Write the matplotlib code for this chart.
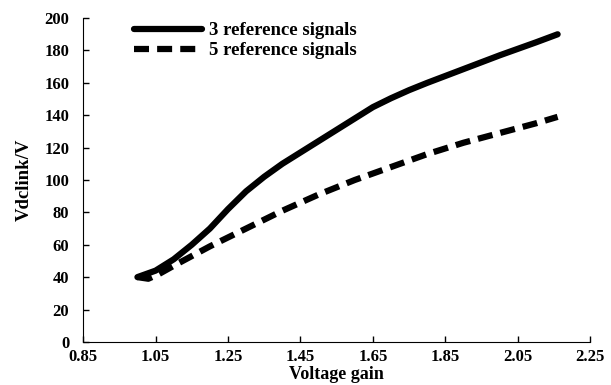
import numpy as np
import matplotlib
matplotlib.use("Agg")
import matplotlib.pyplot as plt

plt.rcParams['font.family'] = ['Liberation Serif', 'DejaVu Serif']
plt.rcParams['font.weight'] = 'bold'

# data
gain3 = [1.0, 1.05, 1.1, 1.15, 1.2, 1.25, 1.3, 1.35, 1.4, 1.5, 1.6, 1.65, 1.7, 1.75, 1.8, 1.9, 2.0, 2.1, 2.16]
vdc3 = [40, 44, 51, 60, 70, 82, 93, 102, 110, 124, 138, 145, 150.5, 155.5, 160, 168.5, 177, 185, 190]

gain5 = [1.0, 1.03, 1.06, 1.1, 1.2, 1.3, 1.4, 1.5, 1.6, 1.7, 1.8, 1.9, 2.0, 2.1, 2.16]
vdc5 = [40, 39, 42, 47, 59, 70, 81, 91, 100, 108, 116, 123, 129, 135, 139]

xticks = [0.85, 1.05, 1.25, 1.45, 1.65, 1.85, 2.05, 2.25]
yticks = list(range(0, 201, 20))

fig = plt.figure(figsize=(6.11, 3.85), dpi=100)
ax = fig.add_axes([0.136, 0.112, 0.83, 0.841])

ax.plot(gain3, vdc3, color='black', lw=4.5, solid_capstyle='round', solid_joinstyle='round',
        label='3 reference signals')
ax.plot(gain5, vdc5, color='black', lw=4.5, ls=(0, (2.4, 1.3)), label='5 reference signals')

ax.set_xlim(0.85, 2.25)
ax.set_ylim(0, 200)
ax.set_xticks(xticks)
ax.set_xticklabels(['%.2f' % v for v in xticks])
ax.set_yticks(yticks)
ax.tick_params(direction='in', length=4, labelsize=12, width=1)
ax.tick_params(axis='y', pad=10)
ax.tick_params(axis='x', pad=5)
ax.spines['top'].set_visible(False)
ax.spines['right'].set_visible(False)
ax.set_xlabel('Voltage gain', fontsize=13, fontweight='bold', labelpad=1)
ax.set_ylabel('Vdclink/V', fontsize=13.5, fontweight='bold', labelpad=8)

ax.legend(loc='upper left', bbox_to_anchor=(0.068, 1.04), frameon=False,
          fontsize=13.5, handlelength=3.6, handletextpad=0.35, labelspacing=0.15)

fig.savefig('out.png', dpi=100)
